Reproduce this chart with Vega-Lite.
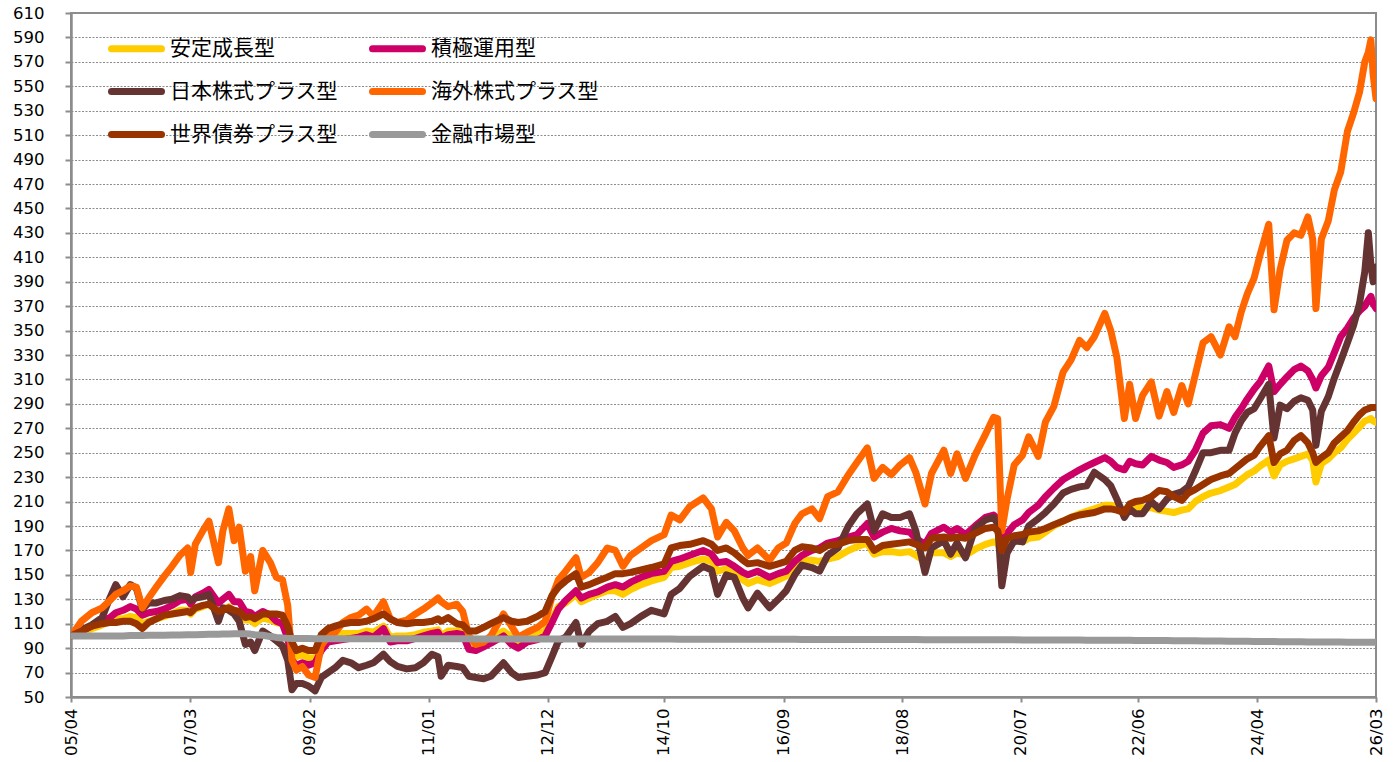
{
  "$schema": "https://vega.github.io/schema/vega-lite/v6.json",
  "width": 1305,
  "height": 684,
  "autosize": {"type": "none"},
  "padding": {"left": 71, "top": 13, "right": 18, "bottom": 65},
  "background": "white",
  "config": {
    "view": {"stroke": "#8c8c8c", "strokeWidth": 2},
    "axis": {"labelFont": "DejaVu Sans", "labelFontSize": 16.5, "labelColor": "#000000", "domainColor": "#8c8c8c", "domainWidth": 2.5, "tickColor": "#8c8c8c", "tickWidth": 2, "title": null}
  },
  "data": {"values": [
    {"d":"2005-04-01","a":100,"b":100,"c":100,"e":100,"f":100,"g":100},
    {"d":"2005-06-01","a":103,"b":104,"c":105,"e":112,"f":104,"g":100},
    {"d":"2005-08-01","a":106,"b":108,"c":109,"e":119,"f":108,"g":100},
    {"d":"2005-10-01","a":109,"b":112,"c":115,"e":123,"f":110,"g":100},
    {"d":"2005-11-15","a":112,"b":115,"c":131,"e":129,"f":111,"g":100},
    {"d":"2005-12-20","a":114,"b":119,"c":142,"e":134,"f":111,"g":100},
    {"d":"2006-02-01","a":114,"b":121,"c":132,"e":137,"f":112,"g":100},
    {"d":"2006-03-15","a":116,"b":124,"c":142,"e":141,"f":112,"g":100.3},
    {"d":"2006-04-20","a":115,"b":122,"c":139,"e":140,"f":110,"g":100.3},
    {"d":"2006-05-25","a":110,"b":117,"c":122,"e":123,"f":106,"g":100.3},
    {"d":"2006-07-01","a":112,"b":119,"c":127,"e":131,"f":111,"g":100.5},
    {"d":"2006-08-15","a":114,"b":120,"c":127,"e":140,"f":114,"g":100.5},
    {"d":"2006-10-01","a":116,"b":122,"c":129,"e":149,"f":117,"g":100.6},
    {"d":"2006-11-15","a":118,"b":125,"c":130,"e":157,"f":118,"g":100.7},
    {"d":"2007-01-01","a":121,"b":129,"c":133,"e":166,"f":119,"g":100.8},
    {"d":"2007-02-15","a":121,"b":130,"c":132,"e":172,"f":120,"g":101},
    {"d":"2007-03-05","a":118,"b":126,"c":129,"e":152,"f":119,"g":101},
    {"d":"2007-04-01","a":122,"b":132,"c":131,"e":175,"f":123,"g":101},
    {"d":"2007-05-15","a":124,"b":135,"c":132,"e":186,"f":125,"g":101.2},
    {"d":"2007-06-20","a":126,"b":138,"c":134,"e":194,"f":126,"g":101.3},
    {"d":"2007-08-15","a":119,"b":127,"c":112,"e":160,"f":120,"g":101.4},
    {"d":"2007-09-10","a":122,"b":130,"c":123,"e":186,"f":121,"g":101.5},
    {"d":"2007-10-15","a":124,"b":134,"c":121,"e":204,"f":123,"g":101.6},
    {"d":"2007-11-15","a":120,"b":128,"c":118,"e":178,"f":121,"g":101.7},
    {"d":"2007-12-15","a":120,"b":128,"c":112,"e":189,"f":120,"g":101.8},
    {"d":"2008-01-20","a":113,"b":120,"c":93,"e":153,"f":115,"g":101.8},
    {"d":"2008-02-20","a":113,"b":119,"c":95,"e":165,"f":116,"g":101.5},
    {"d":"2008-03-15","a":110,"b":116,"c":88,"e":137,"f":114,"g":101},
    {"d":"2008-05-01","a":115,"b":120,"c":104,"e":170,"f":118,"g":100.5},
    {"d":"2008-06-15","a":113,"b":117,"c":100,"e":160,"f":118,"g":99.5},
    {"d":"2008-07-20","a":111,"b":112,"c":96,"e":148,"f":118,"g":98.8},
    {"d":"2008-08-25","a":110,"b":110,"c":92,"e":146,"f":117,"g":98.3},
    {"d":"2008-09-25","a":100,"b":98,"c":80,"e":125,"f":108,"g":98},
    {"d":"2008-10-20","a":85,"b":80,"c":56,"e":80,"f":95,"g":97.8},
    {"d":"2008-11-15","a":83,"b":76,"c":61,"e":72,"f":88,"g":97.8},
    {"d":"2008-12-20","a":85,"b":78,"c":61,"e":75,"f":90,"g":97.8},
    {"d":"2009-01-25","a":82,"b":76,"c":59,"e":68,"f":88,"g":97.8},
    {"d":"2009-03-05","a":82,"b":78,"c":55,"e":66,"f":88,"g":97.7},
    {"d":"2009-04-10","a":90,"b":88,"c":66,"e":92,"f":101,"g":97.7},
    {"d":"2009-05-20","a":97,"b":95,"c":70,"e":100,"f":106,"g":97.6},
    {"d":"2009-07-01","a":100,"b":96,"c":74,"e":103,"f":108,"g":97.6},
    {"d":"2009-08-15","a":102,"b":97,"c":80,"e":111,"f":110,"g":97.6},
    {"d":"2009-10-01","a":102,"b":98,"c":78,"e":115,"f":111,"g":97.6},
    {"d":"2009-11-15","a":102,"b":99,"c":74,"e":117,"f":111,"g":97.6},
    {"d":"2010-01-01","a":104,"b":101,"c":76,"e":122,"f":112,"g":97.6},
    {"d":"2010-02-10","a":103,"b":99,"c":78,"e":116,"f":114,"g":97.6},
    {"d":"2010-04-10","a":108,"b":106,"c":85,"e":128,"f":118,"g":97.6},
    {"d":"2010-05-20","a":99,"b":95,"c":79,"e":114,"f":114,"g":97.6},
    {"d":"2010-07-01","a":100,"b":96,"c":75,"e":111,"f":111,"g":97.6},
    {"d":"2010-08-25","a":100,"b":96,"c":73,"e":113,"f":110,"g":97.6},
    {"d":"2010-10-15","a":101,"b":98,"c":74,"e":118,"f":111,"g":97.6},
    {"d":"2010-12-01","a":103,"b":100,"c":78,"e":122,"f":111,"g":97.6},
    {"d":"2011-01-20","a":104,"b":102,"c":85,"e":127,"f":112,"g":97.6},
    {"d":"2011-02-25","a":105,"b":103,"c":83,"e":131,"f":114,"g":97.6},
    {"d":"2011-03-15","a":100,"b":98,"c":67,"e":128,"f":112,"g":97.6},
    {"d":"2011-04-25","a":104,"b":101,"c":76,"e":124,"f":115,"g":97.6},
    {"d":"2011-06-15","a":104,"b":102,"c":75,"e":126,"f":110,"g":97.6},
    {"d":"2011-07-20","a":103,"b":101,"c":74,"e":120,"f":109,"g":97.6},
    {"d":"2011-08-25","a":94,"b":89,"c":67,"e":100,"f":104,"g":97.6},
    {"d":"2011-10-05","a":93,"b":88,"c":66,"e":93,"f":104,"g":97.5},
    {"d":"2011-11-20","a":95,"b":91,"c":65,"e":95,"f":107,"g":97.5},
    {"d":"2012-01-01","a":98,"b":94,"c":67,"e":100,"f":110,"g":97.5},
    {"d":"2012-03-15","a":104,"b":100,"c":78,"e":118,"f":115,"g":97.5},
    {"d":"2012-05-01","a":99,"b":93,"c":70,"e":108,"f":112,"g":97.5},
    {"d":"2012-06-10","a":96,"b":90,"c":66,"e":99,"f":111,"g":97.5},
    {"d":"2012-08-01","a":99,"b":95,"c":67,"e":103,"f":112,"g":97.5},
    {"d":"2012-10-01","a":101,"b":97,"c":68,"e":107,"f":116,"g":97.5},
    {"d":"2012-11-15","a":104,"b":100,"c":70,"e":112,"f":120,"g":97.5},
    {"d":"2012-12-25","a":114,"b":111,"c":83,"e":132,"f":133,"g":97.5},
    {"d":"2013-02-01","a":124,"b":122,"c":96,"e":146,"f":140,"g":97.5},
    {"d":"2013-03-15","a":127,"b":129,"c":99,"e":153,"f":145,"g":97.5},
    {"d":"2013-05-15","a":134,"b":137,"c":111,"e":164,"f":151,"g":97.5},
    {"d":"2013-06-15","a":128,"b":131,"c":93,"e":148,"f":140,"g":97.5},
    {"d":"2013-08-01","a":131,"b":134,"c":104,"e":152,"f":142,"g":97.5},
    {"d":"2013-09-20","a":134,"b":136,"c":110,"e":160,"f":145,"g":97.4},
    {"d":"2013-11-15","a":137,"b":140,"c":112,"e":172,"f":148,"g":97.4},
    {"d":"2014-01-01","a":137,"b":142,"c":116,"e":170,"f":151,"g":97.4},
    {"d":"2014-02-15","a":134,"b":140,"c":107,"e":157,"f":151,"g":97.4},
    {"d":"2014-04-01","a":138,"b":144,"c":110,"e":166,"f":152,"g":97.4},
    {"d":"2014-06-01","a":142,"b":148,"c":116,"e":172,"f":154,"g":97.4},
    {"d":"2014-08-01","a":145,"b":151,"c":121,"e":178,"f":156,"g":97.4},
    {"d":"2014-10-15","a":148,"b":153,"c":118,"e":183,"f":159,"g":97.4},
    {"d":"2014-11-25","a":156,"b":161,"c":134,"e":199,"f":172,"g":97.4},
    {"d":"2015-01-15","a":157,"b":163,"c":139,"e":195,"f":174,"g":97.3},
    {"d":"2015-03-15","a":160,"b":166,"c":149,"e":206,"f":175,"g":97.3},
    {"d":"2015-06-01","a":163,"b":170,"c":157,"e":213,"f":178,"g":97.3},
    {"d":"2015-07-20","a":161,"b":167,"c":154,"e":204,"f":175,"g":97.3},
    {"d":"2015-08-25","a":153,"b":160,"c":134,"e":181,"f":170,"g":97.3},
    {"d":"2015-10-15","a":155,"b":161,"c":150,"e":193,"f":172,"g":97.3},
    {"d":"2015-12-01","a":151,"b":157,"c":148,"e":186,"f":168,"g":97.3},
    {"d":"2016-01-20","a":146,"b":152,"c":131,"e":172,"f":162,"g":97.3},
    {"d":"2016-02-20","a":143,"b":150,"c":123,"e":166,"f":159,"g":97.3},
    {"d":"2016-04-15","a":146,"b":153,"c":135,"e":172,"f":160,"g":97.2},
    {"d":"2016-06-25","a":143,"b":148,"c":123,"e":162,"f":157,"g":97.2},
    {"d":"2016-08-15","a":146,"b":151,"c":130,"e":172,"f":159,"g":97.2},
    {"d":"2016-10-01","a":149,"b":153,"c":137,"e":176,"f":161,"g":97.2},
    {"d":"2016-11-20","a":158,"b":161,"c":150,"e":192,"f":170,"g":97.2},
    {"d":"2017-01-01","a":162,"b":166,"c":158,"e":200,"f":173,"g":97.1},
    {"d":"2017-03-01","a":162,"b":170,"c":156,"e":204,"f":172,"g":97.1},
    {"d":"2017-04-15","a":161,"b":172,"c":153,"e":196,"f":170,"g":97.1},
    {"d":"2017-06-01","a":163,"b":176,"c":166,"e":214,"f":174,"g":97.1},
    {"d":"2017-08-01","a":165,"b":178,"c":172,"e":218,"f":175,"g":97.1},
    {"d":"2017-10-01","a":170,"b":181,"c":190,"e":232,"f":178,"g":97},
    {"d":"2017-11-20","a":173,"b":183,"c":200,"e":242,"f":179,"g":97},
    {"d":"2018-01-20","a":176,"b":192,"c":208,"e":254,"f":179,"g":97},
    {"d":"2018-03-01","a":167,"b":181,"c":186,"e":229,"f":170,"g":97},
    {"d":"2018-04-20","a":169,"b":185,"c":200,"e":238,"f":174,"g":97},
    {"d":"2018-06-10","a":169,"b":188,"c":197,"e":232,"f":175,"g":97},
    {"d":"2018-08-01","a":168,"b":186,"c":197,"e":240,"f":176,"g":97},
    {"d":"2018-09-25","a":169,"b":185,"c":200,"e":246,"f":177,"g":97},
    {"d":"2018-11-01","a":166,"b":180,"c":186,"e":234,"f":175,"g":97},
    {"d":"2018-12-25","a":161,"b":175,"c":152,"e":208,"f":172,"g":96.9},
    {"d":"2019-02-01","a":168,"b":184,"c":172,"e":233,"f":180,"g":96.9},
    {"d":"2019-04-15","a":168,"b":189,"c":178,"e":252,"f":181,"g":96.9},
    {"d":"2019-05-25","a":165,"b":185,"c":167,"e":233,"f":180,"g":96.9},
    {"d":"2019-07-01","a":168,"b":188,"c":176,"e":249,"f":181,"g":96.9},
    {"d":"2019-08-20","a":166,"b":183,"c":164,"e":229,"f":180,"g":96.8},
    {"d":"2019-10-15","a":171,"b":190,"c":188,"e":248,"f":184,"g":96.8},
    {"d":"2019-12-15","a":175,"b":197,"c":195,"e":265,"f":188,"g":96.8},
    {"d":"2020-02-01","a":177,"b":199,"c":197,"e":279,"f":189,"g":96.8},
    {"d":"2020-02-25","a":176,"b":196,"c":192,"e":278,"f":186,"g":96.8},
    {"d":"2020-03-20","a":166,"b":178,"c":141,"e":186,"f":170,"g":96.8},
    {"d":"2020-04-20","a":172,"b":184,"c":168,"e":212,"f":180,"g":96.8},
    {"d":"2020-06-01","a":178,"b":191,"c":178,"e":240,"f":182,"g":96.8},
    {"d":"2020-07-20","a":177,"b":195,"c":177,"e":248,"f":183,"g":96.7},
    {"d":"2020-08-25","a":180,"b":201,"c":190,"e":263,"f":185,"g":96.7},
    {"d":"2020-10-20","a":181,"b":207,"c":196,"e":247,"f":186,"g":96.7},
    {"d":"2020-12-01","a":185,"b":214,"c":201,"e":275,"f":188,"g":96.7},
    {"d":"2021-01-20","a":190,"b":221,"c":208,"e":288,"f":191,"g":96.6},
    {"d":"2021-03-15","a":194,"b":228,"c":217,"e":316,"f":194,"g":96.6},
    {"d":"2021-05-01","a":197,"b":232,"c":220,"e":326,"f":197,"g":96.6},
    {"d":"2021-06-20","a":200,"b":236,"c":222,"e":342,"f":199,"g":96.6},
    {"d":"2021-08-01","a":202,"b":239,"c":223,"e":336,"f":200,"g":96.5},
    {"d":"2021-09-15","a":204,"b":242,"c":234,"e":345,"f":201,"g":96.5},
    {"d":"2021-11-15","a":207,"b":246,"c":228,"e":364,"f":204,"g":96.5},
    {"d":"2021-12-20","a":207,"b":243,"c":223,"e":350,"f":204,"g":96.5},
    {"d":"2022-01-25","a":206,"b":238,"c":212,"e":328,"f":203,"g":96.4},
    {"d":"2022-03-10","a":203,"b":236,"c":197,"e":278,"f":201,"g":96.4},
    {"d":"2022-04-10","a":206,"b":243,"c":204,"e":306,"f":208,"g":96.4},
    {"d":"2022-05-15","a":206,"b":241,"c":200,"e":278,"f":210,"g":96.3},
    {"d":"2022-06-25","a":205,"b":240,"c":200,"e":297,"f":211,"g":96.3},
    {"d":"2022-08-15","a":205,"b":247,"c":210,"e":308,"f":214,"g":96.3},
    {"d":"2022-09-30","a":203,"b":244,"c":204,"e":280,"f":219,"g":96.2},
    {"d":"2022-11-15","a":202,"b":242,"c":212,"e":300,"f":218,"g":96.2},
    {"d":"2022-12-25","a":201,"b":238,"c":216,"e":283,"f":214,"g":96.1},
    {"d":"2023-02-10","a":203,"b":240,"c":218,"e":305,"f":211,"g":96.1},
    {"d":"2023-03-20","a":204,"b":243,"c":222,"e":290,"f":217,"g":96},
    {"d":"2023-05-01","a":210,"b":252,"c":235,"e":314,"f":220,"g":96},
    {"d":"2023-06-15","a":214,"b":266,"c":250,"e":340,"f":224,"g":95.9},
    {"d":"2023-08-01","a":217,"b":272,"c":250,"e":345,"f":228,"g":95.9},
    {"d":"2023-09-25","a":219,"b":273,"c":252,"e":330,"f":231,"g":95.8},
    {"d":"2023-11-15","a":222,"b":270,"c":252,"e":353,"f":233,"g":95.7},
    {"d":"2023-12-20","a":224,"b":279,"c":266,"e":345,"f":237,"g":95.7},
    {"d":"2024-01-25","a":228,"b":286,"c":276,"e":365,"f":241,"g":95.6},
    {"d":"2024-03-01","a":232,"b":294,"c":283,"e":380,"f":245,"g":95.6},
    {"d":"2024-04-10","a":235,"b":302,"c":286,"e":393,"f":248,"g":95.5},
    {"d":"2024-05-15","a":239,"b":308,"c":294,"e":412,"f":255,"g":95.5},
    {"d":"2024-07-05","a":244,"b":321,"c":306,"e":437,"f":264,"g":95.4},
    {"d":"2024-08-05","a":231,"b":300,"c":262,"e":367,"f":242,"g":95.4},
    {"d":"2024-09-10","a":240,"b":306,"c":289,"e":400,"f":249,"g":95.3},
    {"d":"2024-10-20","a":243,"b":312,"c":286,"e":424,"f":252,"g":95.3},
    {"d":"2024-12-01","a":245,"b":318,"c":292,"e":430,"f":260,"g":95.2},
    {"d":"2025-01-10","a":247,"b":321,"c":295,"e":428,"f":264,"g":95.2},
    {"d":"2025-02-20","a":249,"b":317,"c":293,"e":443,"f":258,"g":95.1},
    {"d":"2025-03-20","a":244,"b":310,"c":285,"e":425,"f":250,"g":95.1},
    {"d":"2025-04-08","a":226,"b":303,"c":256,"e":368,"f":242,"g":95.1},
    {"d":"2025-05-10","a":241,"b":313,"c":284,"e":425,"f":246,"g":95},
    {"d":"2025-06-20","a":245,"b":320,"c":296,"e":440,"f":250,"g":95},
    {"d":"2025-07-25","a":250,"b":332,"c":311,"e":465,"f":258,"g":95},
    {"d":"2025-09-01","a":254,"b":345,"c":325,"e":480,"f":263,"g":95},
    {"d":"2025-10-10","a":261,"b":352,"c":340,"e":513,"f":268,"g":94.9},
    {"d":"2025-11-15","a":266,"b":360,"c":354,"e":528,"f":275,"g":94.9},
    {"d":"2025-12-20","a":271,"b":366,"c":372,"e":545,"f":281,"g":94.9},
    {"d":"2026-01-20","a":276,"b":370,"c":398,"e":570,"f":285,"g":94.8},
    {"d":"2026-02-10","a":277,"b":375,"c":430,"e":578,"f":286,"g":94.8},
    {"d":"2026-02-25","a":278,"b":378,"c":404,"e":588,"f":287,"g":94.8},
    {"d":"2026-03-10","a":276,"b":372,"c":390,"e":560,"f":287,"g":94.8},
    {"d":"2026-03-27","a":275,"b":368,"c":402,"e":540,"f":287,"g":94.8}
  ]},
  "transform": [{"fold": ["a", "b", "c", "e", "f", "g"], "as": ["s", "v"]}],
  "mark": {"type": "line", "strokeWidth": 7, "strokeCap": "round", "strokeJoin": "round", "clip": true},
  "encoding": {
    "x": {
      "field": "d", "type": "temporal",
      "scale": {"type": "utc", "domain": [{"year": 2005, "month": 4, "date": 1, "utc": true}, {"year": 2026, "month": 3, "date": 27, "utc": true}]},
      "axis": {
        "values": [
          {"year": 2005, "month": 4, "date": 1, "utc": true},
          {"year": 2007, "month": 3, "date": 1, "utc": true},
          {"year": 2009, "month": 2, "date": 1, "utc": true},
          {"year": 2011, "month": 1, "date": 1, "utc": true},
          {"year": 2012, "month": 12, "date": 1, "utc": true},
          {"year": 2014, "month": 10, "date": 13, "utc": true},
          {"year": 2016, "month": 9, "date": 16, "utc": true},
          {"year": 2018, "month": 8, "date": 12, "utc": true},
          {"year": 2020, "month": 7, "date": 8, "utc": true},
          {"year": 2022, "month": 6, "date": 1, "utc": true},
          {"year": 2024, "month": 4, "date": 28, "utc": true},
          {"year": 2026, "month": 3, "date": 27, "utc": true}
        ],
        "format": "%y/%m", "labelAngle": 270, "tickSize": 5, "labelPadding": 6, "grid": false
      }
    },
    "y": {
      "field": "v", "type": "quantitative",
      "scale": {"domain": [50, 610], "nice": false, "zero": false},
      "axis": {
        "values": [50,70,90,110,130,150,170,190,210,230,250,270,290,310,330,350,370,390,410,430,450,470,490,510,530,550,570,590,610],
        "tickSize": 6, "labelPadding": 21, "grid": true, "gridColor": "#8c8c8c", "gridDash": [2, 1.5], "gridWidth": 1
      }
    },
    "color": {
      "field": "s", "type": "nominal",
      "scale": {"domain": ["a", "c", "f", "b", "e", "g"], "range": ["#FFCC00", "#663333", "#993300", "#CC0066", "#FF6600", "#999999"]},
      "legend": {
        "title": null, "orient": "none", "legendX": 37, "legendY": 7, "columns": 2, "columnPadding": 20, "rowPadding": -3.5, "padding": 0,
        "symbolType": "stroke", "symbolSize": 2500, "symbolStrokeWidth": 7,
        "labelFont": "Noto Sans CJK JP", "labelFontSize": 21, "labelColor": "#000000", "labelOffset": 5, "labelLimit": 400,
        "labelExpr": "{'a': '安定成長型', 'b': '積極運用型', 'c': '日本株式プラス型', 'e': '海外株式プラス型', 'f': '世界債券プラス型', 'g': '金融市場型'}[datum.label]",
        "encode": {"symbols": {"update": {"strokeCap": {"value": "round"}}}}
      }
    }
  }
}
